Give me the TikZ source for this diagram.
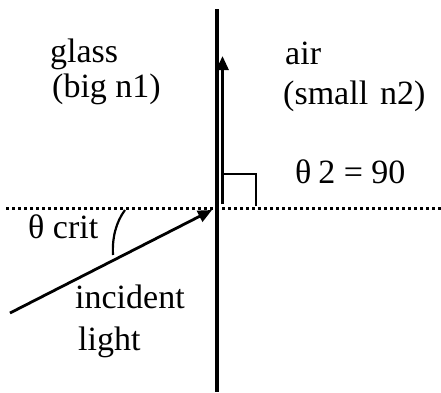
\documentclass[tikz,border=0pt]{standalone}
\usepackage{fontspec}
\setmainfont{Liberation Serif}
\usetikzlibrary{arrows.meta}
\begin{document}
\begin{tikzpicture}[x=1pt,y=-1pt,
  lbl/.style={anchor=base west, inner sep=0pt, font=\fontsize{34}{37}\selectfont},
  boundary/.style={line width=3.2pt},
  normalline/.style={line width=3pt, dash pattern=on 3pt off 3pt},
  ray/.style={line width=2.8pt, -{Triangle[length=14pt,width=12pt]}},
  thin mark/.style={line width=2.2pt}]
\useasboundingbox (0,0) rectangle (441,392);
% coordinates
\coordinate (btop) at (217,9);
\coordinate (bbot) at (217,392);
\coordinate (nl) at (6,208);
\coordinate (nr) at (441,208);
\coordinate (src) at (10,313);
\coordinate (hit) at (212,210);
\coordinate (rbase) at (222.5,204);
\coordinate (rtip) at (222.5,56);
\coordinate (ra1) at (223,174);
\coordinate (ra2) at (256,174);
\coordinate (ra3) at (256,206);
\coordinate (arcA) at (125,210);
\coordinate (arcB) at (113,255);
% lines
\draw[boundary] (btop) -- (bbot);
\draw[normalline] (nl) -- (nr);
\draw[ray] (src) -- (hit);
\draw[ray] (rbase) -- (rtip);
\draw[thin mark] (ra1) -- (ra2) -- (ra3);
\draw[thin mark] (arcA) .. controls (116,222) and (112,238) .. (arcB);
% labels
\node[lbl] (glass) at (50,62) {glass};
\node[lbl] (big) at (52,97) {(big n1)};
\node[lbl] (air) at (285,64) {air};
\node[lbl] (small) at (283,104) {(small\hspace{0.35em}n2)};
\node[lbl] (theta2) at (295,183) {θ\hspace{0.2em}2 = 90};
\node[lbl] (thetac) at (28,238) {θ\hspace{0.25em}crit};
\node[lbl] (incident) at (75,308) {incident};
\node[lbl] (light) at (78,350) {light};
\end{tikzpicture}
\end{document}
